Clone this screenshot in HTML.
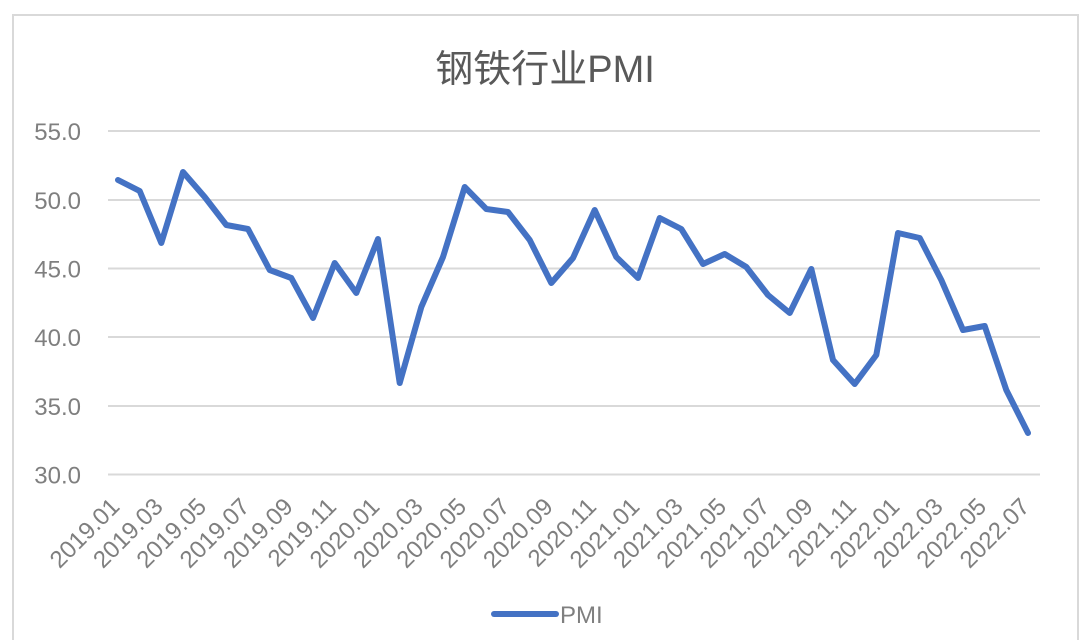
<!DOCTYPE html>
<html>
<head>
<meta charset="utf-8">
<style>
  html, body { margin: 0; padding: 0; background: #ffffff; }
  svg { display: block; }
</style>
</head>
<body>
<svg width="1088" height="640" viewBox="0 0 1088 640" xmlns="http://www.w3.org/2000/svg">
  <rect x="0" y="0" width="1088" height="640" fill="#ffffff"/>
  <rect x="13" y="15" width="1065" height="640" fill="#ffffff" stroke="#d9d9d9" stroke-width="2"/>

  <text x="545" y="82" text-anchor="middle" font-family="Liberation Sans, Noto Sans CJK SC, sans-serif" font-size="38" fill="#595959">钢铁行业PMI</text>

  <g stroke="#d9d9d9" stroke-width="2">
    <line x1="108" y1="131" x2="1040" y2="131"/>
    <line x1="108" y1="200" x2="1040" y2="200"/>
    <line x1="108" y1="268.5" x2="1040" y2="268.5"/>
    <line x1="108" y1="337" x2="1040" y2="337"/>
    <line x1="108" y1="406" x2="1040" y2="406"/>
    <line x1="108" y1="474.5" x2="1040" y2="474.5"/>
  </g>

  <g font-family="Liberation Sans, sans-serif" font-size="24" fill="#7f7f7f" text-anchor="end">
    <text x="81" y="140">55.0</text>
    <text x="81" y="209">50.0</text>
    <text x="81" y="277.5">45.0</text>
    <text x="81" y="346">40.0</text>
    <text x="81" y="415">35.0</text>
    <text x="81" y="483.5">30.0</text>
  </g>

  <g font-family="Liberation Sans, sans-serif" font-size="24" fill="#7f7f7f" text-anchor="end">
    <text transform="translate(121,508) rotate(-45)">2019.01</text>
    <text transform="translate(164.3,508) rotate(-45)">2019.03</text>
    <text transform="translate(207.7,508) rotate(-45)">2019.05</text>
    <text transform="translate(251,508) rotate(-45)">2019.07</text>
    <text transform="translate(294.3,508) rotate(-45)">2019.09</text>
    <text transform="translate(337.7,508) rotate(-45)">2019.11</text>
    <text transform="translate(381,508) rotate(-45)">2020.01</text>
    <text transform="translate(424.3,508) rotate(-45)">2020.03</text>
    <text transform="translate(467.7,508) rotate(-45)">2020.05</text>
    <text transform="translate(511,508) rotate(-45)">2020.07</text>
    <text transform="translate(554.3,508) rotate(-45)">2020.09</text>
    <text transform="translate(597.7,508) rotate(-45)">2020.11</text>
    <text transform="translate(641,508) rotate(-45)">2021.01</text>
    <text transform="translate(684.3,508) rotate(-45)">2021.03</text>
    <text transform="translate(727.7,508) rotate(-45)">2021.05</text>
    <text transform="translate(771,508) rotate(-45)">2021.07</text>
    <text transform="translate(814.3,508) rotate(-45)">2021.09</text>
    <text transform="translate(857.7,508) rotate(-45)">2021.11</text>
    <text transform="translate(901,508) rotate(-45)">2022.01</text>
    <text transform="translate(944.3,508) rotate(-45)">2022.03</text>
    <text transform="translate(987.7,508) rotate(-45)">2022.05</text>
    <text transform="translate(1031,508) rotate(-45)">2022.07</text>
  </g>

  <polyline fill="none" stroke="#4472c4" stroke-width="6" stroke-linejoin="round" stroke-linecap="round"
    points="118,180 139.7,191 161.3,243 183,172 204.7,197 226.3,225 248,229 269.7,270 291.3,278 313,318 334.7,263 356.3,293 378,239 399.7,383 421.3,307 443,257 464.7,187 486.3,209 508,212 529.7,240 551.3,283 573,258 594.7,210 616.3,257 638,278 659.7,218 681.3,229 703,264 724.7,254 746.3,267 768,295 789.7,313 811.3,269 833,360 854.7,384 876.3,355 898,233 919.7,238 941.3,280 963,330 984.7,326 1006.3,390 1028,433"/>

  <line x1="494" y1="614" x2="556" y2="614" stroke="#4472c4" stroke-width="6" stroke-linecap="round"/>
  <text x="560" y="623" font-family="Liberation Sans, sans-serif" font-size="24" fill="#7f7f7f">PMI</text>
</svg>
</body>
</html>
